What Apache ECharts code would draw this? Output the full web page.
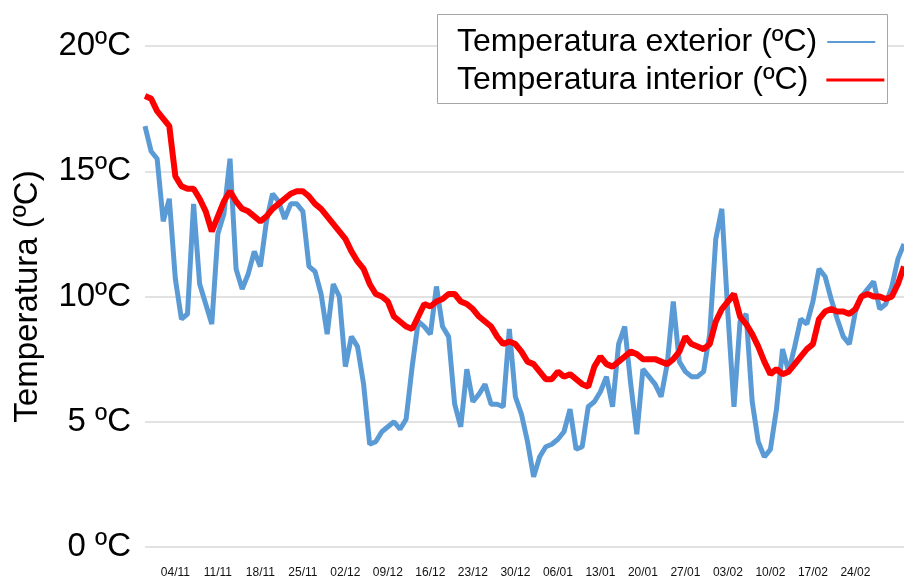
<!DOCTYPE html>
<html>
<head>
<meta charset="utf-8">
<script src="https://cdn.jsdelivr.net/npm/echarts@6/dist/echarts.min.js"></script>
<style>
html, body { margin: 0; padding: 0; background: #fff; }
#chart { width: 904px; height: 581px; }
</style>
</head>
<body>
<div id="chart"></div>
<script>
// one category per day, 30/10 .. 04/03
var days = [
	'30/10', '31/10',
	'01/11', '02/11', '03/11', '04/11', '05/11', '06/11', '07/11', '08/11', '09/11', '10/11',
	'11/11', '12/11', '13/11', '14/11', '15/11', '16/11', '17/11', '18/11', '19/11', '20/11',
	'21/11', '22/11', '23/11', '24/11', '25/11', '26/11', '27/11', '28/11', '29/11', '30/11',
	'01/12', '02/12', '03/12', '04/12', '05/12', '06/12', '07/12', '08/12', '09/12', '10/12',
	'11/12', '12/12', '13/12', '14/12', '15/12', '16/12', '17/12', '18/12', '19/12', '20/12',
	'21/12', '22/12', '23/12', '24/12', '25/12', '26/12', '27/12', '28/12', '29/12', '30/12', '31/12',
	'01/01', '02/01', '03/01', '04/01', '05/01', '06/01', '07/01', '08/01', '09/01', '10/01',
	'11/01', '12/01', '13/01', '14/01', '15/01', '16/01', '17/01', '18/01', '19/01', '20/01',
	'21/01', '22/01', '23/01', '24/01', '25/01', '26/01', '27/01', '28/01', '29/01', '30/01', '31/01',
	'01/02', '02/02', '03/02', '04/02', '05/02', '06/02', '07/02', '08/02', '09/02', '10/02',
	'11/02', '12/02', '13/02', '14/02', '15/02', '16/02', '17/02', '18/02', '19/02', '20/02',
	'21/02', '22/02', '23/02', '24/02', '25/02', '26/02', '27/02', '28/02',
	'01/03', '02/03', '03/03', '04/03'
];

// weekly labels shown under the axis
var xTickLabels = ['04/11', '11/11', '18/11', '25/11', '02/12', '09/12', '16/12', '23/12', '30/12',
	'06/01', '13/01', '20/01', '27/01', '03/02', '10/02', '17/02', '24/02'];

var yTickLabels = ['0 ºC', '5 ºC', '10ºC', '15ºC', '20ºC'];

var exterior = [
	16.8, 15.8, 15.5, 13.0, 13.9, 10.7, 9.1, 9.3, 13.7, 10.5,
	9.7, 8.9, 12.5, 13.3, 15.5, 11.1, 10.3, 10.9, 11.8, 11.2,
	13.0, 14.1, 13.8, 13.1, 13.7, 13.7, 13.4, 11.2, 11.0, 10.1,
	8.5, 10.5, 10.0, 7.2, 8.4, 8.0, 6.5, 4.1, 4.2, 4.6,
	4.8, 5.0, 4.7, 5.1, 7.2, 9.0, 8.8, 8.5, 10.4, 8.8,
	8.4, 5.7, 4.8, 7.1, 5.8, 6.1, 6.5, 5.7, 5.7, 5.6,
	8.7, 6.0, 5.3, 4.2, 2.8, 3.6, 4.0, 4.1, 4.3, 4.6,
	5.5, 3.9, 4.0, 5.6, 5.8, 6.2, 6.8, 5.6, 8.1, 8.8,
	6.5, 4.5, 7.1, 6.8, 6.5, 6.0, 7.3, 9.8, 7.4, 7.0,
	6.8, 6.8, 7.0, 8.5, 12.3, 13.5, 9.3, 5.6, 9.0, 9.3,
	5.8, 4.2, 3.6, 3.9, 5.5, 7.9, 7.0, 8.0, 9.1, 8.9,
	9.8, 11.1, 10.8, 9.9, 9.1, 8.4, 8.1, 9.4, 10.0, 10.3,
	10.6, 9.5, 9.7, 10.4, 11.5, 12.1
];

var interior = [
	18.0, 17.9, 17.4, 17.1, 16.8, 14.8, 14.4, 14.3, 14.3, 13.9,
	13.4, 12.6, 13.2, 13.8, 14.2, 13.8, 13.5, 13.4, 13.2, 13.0,
	13.2, 13.5, 13.7, 13.9, 14.1, 14.2, 14.2, 14.0, 13.7, 13.5,
	13.2, 12.9, 12.6, 12.3, 11.8, 11.4, 11.1, 10.5, 10.1, 10.0,
	9.8, 9.2, 9.0, 8.8, 8.7, 9.2, 9.7, 9.6, 9.8, 9.9,
	10.1, 10.1, 9.8, 9.7, 9.5, 9.2, 9.0, 8.8, 8.4, 8.1,
	8.2, 8.1, 7.8, 7.4, 7.3, 7.0, 6.7, 6.7, 7.0, 6.8,
	6.9, 6.7, 6.5, 6.4, 7.2, 7.6, 7.3, 7.2, 7.4, 7.6,
	7.8, 7.7, 7.5, 7.5, 7.5, 7.4, 7.3, 7.5, 7.8, 8.4,
	8.1, 8.0, 7.9, 8.1, 9.0, 9.5, 9.8, 10.1, 9.2, 8.9,
	8.5, 8.0, 7.4, 6.9, 7.1, 6.9, 7.0, 7.3, 7.6, 7.9,
	8.1, 9.1, 9.4, 9.5, 9.4, 9.4, 9.3, 9.5, 10.0, 10.1,
	10.0, 10.0, 9.9, 10.0, 10.5, 11.2
];

var nameExt = 'Temperatura exterior (ºC)';
var nameInt = 'Temperatura interior (ºC)';

var myChart = echarts.init(document.getElementById('chart'));
var option = {
	animation: false,
	textStyle: {
		fontFamily: 'Liberation Sans, Arial, sans-serif'
	},
	grid: {
		left: 145,
		right: 0,
		top: 46,
		bottom: 34
	},
	// frame of the legend, the two entries sit on top of it
	graphic: [{
		type: 'rect',
		z: 3,
		shape: { x: 437.5, y: 14.5, width: 450, height: 89 },
		style: { fill: '#fff', stroke: '#a6a6a6', lineWidth: 1 }
	}],
	legend: [{
		left: 457,
		top: 24,
		padding: 0,
		align: 'right',
		itemWidth: 48,
		itemHeight: 2,
		textStyle: { fontSize: 32, lineHeight: 36, color: '#000', padding: [0, 5, 0, 0] },
		data: [{ name: nameExt, icon: 'rect' }]
	}, {
		left: 457,
		top: 62,
		padding: 0,
		align: 'right',
		itemWidth: 58,
		itemHeight: 3,
		textStyle: { fontSize: 32, lineHeight: 36, color: '#000', padding: [0, 13, 0, 0] },
		data: [{ name: nameInt, icon: 'rect' }]
	}],
	xAxis: {
		type: 'category',
		boundaryGap: false,
		data: days,
		axisLine: { show: false },
		axisTick: { show: false },
		splitLine: { show: false },
		axisLabel: {
			interval: function (index, value) {
				return xTickLabels.indexOf(value) >= 0;
			},
			margin: 20,
			fontSize: 12,
			color: '#111'
		}
	},
	yAxis: {
		type: 'value',
		min: 0,
		max: 20,
		interval: 5,
		name: 'Temperatura (ºC)',
		nameLocation: 'middle',
		nameGap: 101,
		nameTextStyle: {
			fontSize: 33,
			color: '#000'
		},
		axisLine: { show: false },
		axisTick: { show: false },
		splitLine: {
			lineStyle: { color: '#d9d9d9', width: 1.5 }
		},
		axisLabel: {
			margin: 14,
			fontSize: 33,
			color: '#000',
			formatter: function (v) {
				return yTickLabels[Math.round(v / 5)];
			}
		}
	},
	series: [{
		name: nameExt,
		type: 'line',
		data: exterior,
		symbol: 'none',
		color: '#5b9bd5',
		lineStyle: { width: 5, color: '#5b9bd5' }
	}, {
		name: nameInt,
		type: 'line',
		data: interior,
		symbol: 'none',
		color: '#ff0000',
		lineStyle: { width: 6, color: '#ff0000' }
	}]
};
myChart.setOption(option);
</script>
</body>
</html>
